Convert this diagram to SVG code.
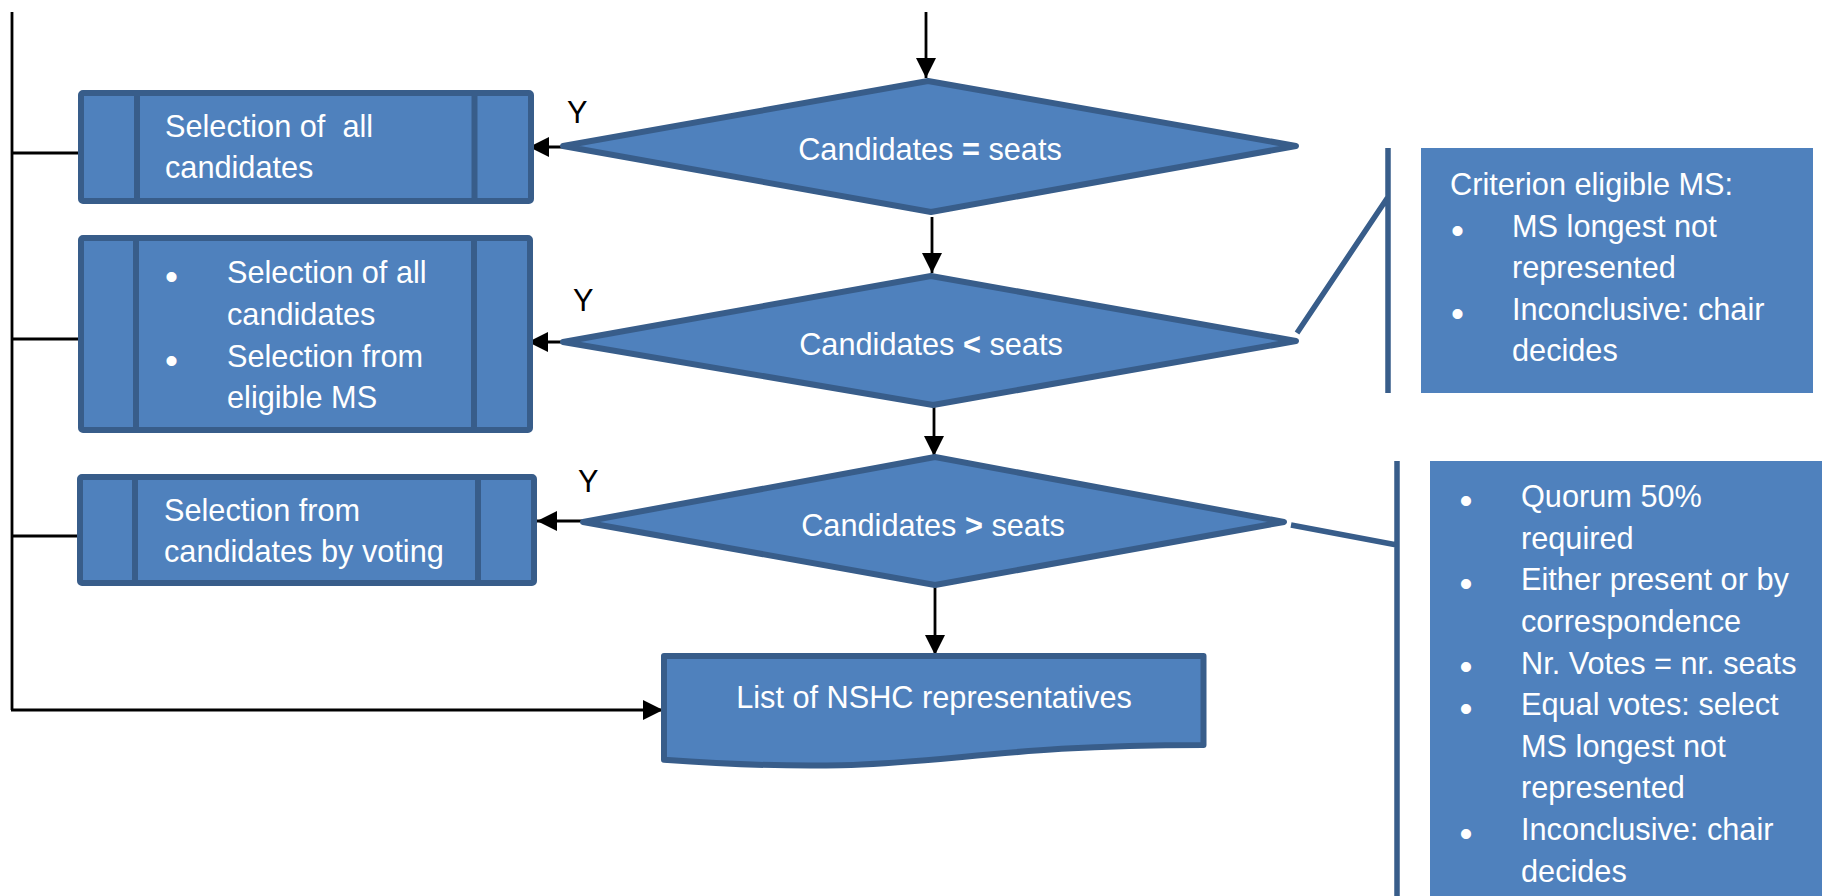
<svg xmlns="http://www.w3.org/2000/svg" width="1822" height="896" viewBox="0 0 1822 896">
<defs>
<style>
.shape{fill:#4f81bd;stroke:#385d8a;stroke-width:6;stroke-linejoin:round}
.inner{stroke:#385d8a;stroke-width:6;fill:none}
.note{fill:#4f81bd;stroke:none}
.callout{stroke:#385d8a;stroke-width:5.5;fill:none}
.conn{stroke:#000;stroke-width:2.8;fill:none}
.t{font-family:"Liberation Sans",Arial,sans-serif;font-size:30.7px;fill:#fff}
.bl{font-family:"Liberation Sans",Arial,sans-serif;font-size:37px;fill:#fff;text-anchor:middle;dominant-baseline:central}
.y{font-family:"Liberation Sans",Arial,sans-serif;font-size:30.7px;fill:#000}
.b{font-weight:bold}
</style>
<marker id="arr" markerUnits="userSpaceOnUse" markerWidth="20" markerHeight="20" viewBox="0 0 20 20" refX="20" refY="10" orient="auto">
<path d="M0,0 L20,10 L0,20 Z" fill="#000"/>
</marker>
</defs>

<g id="connectors">
<path class="conn" d="M926,12 V78" marker-end="url(#arr)"/>
<path class="conn" d="M932,217 V273" marker-end="url(#arr)"/>
<path class="conn" d="M934,407 V456" marker-end="url(#arr)"/>
<path class="conn" d="M935,587 V655" marker-end="url(#arr)"/>
<path class="conn" d="M563,147 H529" marker-end="url(#arr)"/>
<path class="conn" d="M563,342 H528" marker-end="url(#arr)"/>
<path class="conn" d="M582,521 H537" marker-end="url(#arr)"/>
<path class="conn" d="M12,12 V710"/>
<path class="conn" d="M12,153 H80"/>
<path class="conn" d="M12,339 H79"/>
<path class="conn" d="M12,536 H78"/>
<path class="conn" d="M11,710 H663" marker-end="url(#arr)"/>
<text class="y" x="567" y="123">Y</text>
<text class="y" x="573" y="311">Y</text>
<text class="y" x="578" y="492">Y</text>
</g>

<g id="box1">
<rect class="shape" x="81" y="93" width="450" height="108" rx="2"/>
<line class="inner" x1="137" y1="93" x2="137" y2="201"/>
<line class="inner" x1="474.5" y1="93" x2="474.5" y2="201"/>
<text class="t" x="165" y="137" xml:space="preserve">Selection of  all</text>
<text class="t" x="165" y="178">candidates</text>
</g>

<g id="box2">
<rect class="shape" x="81" y="238" width="449" height="192" rx="2"/>
<line class="inner" x1="136" y1="238" x2="136" y2="430"/>
<line class="inner" x1="474" y1="238" x2="474" y2="430"/>
<text class="bl" x="171.5" y="276">•</text>
<text class="t" x="227" y="283">Selection of all</text>
<text class="t" x="227" y="325">candidates</text>
<text class="bl" x="171.5" y="360">•</text>
<text class="t" x="227" y="367">Selection from</text>
<text class="t" x="227" y="408">eligible MS</text>
</g>

<g id="box3">
<rect class="shape" x="80" y="477" width="454" height="106" rx="2"/>
<line class="inner" x1="135" y1="477" x2="135" y2="583"/>
<line class="inner" x1="478" y1="477" x2="478" y2="583"/>
<text class="t" x="164" y="521">Selection from</text>
<text class="t" x="164" y="562">candidates by voting</text>
</g>

<g id="decision1">
<polygon class="shape" points="563,146 928,81 1296,146 931,212"/>
<text class="t" x="930" y="160" text-anchor="middle">Candidates <tspan class="b">=</tspan> seats</text>
</g>

<g id="decision2">
<polygon class="shape" points="563,342 931,276 1296,341 933,405"/>
<text class="t" x="931" y="355" text-anchor="middle">Candidates <tspan class="b">&lt;</tspan> seats</text>
</g>

<g id="decision3">
<polygon class="shape" points="583,522 935,457 1284,522 935,585"/>
<text class="t" x="933" y="536" text-anchor="middle">Candidates <tspan class="b">&gt;</tspan> seats</text>
</g>

<g id="list">
<path class="shape" d="M664,656 H1203.5 V745 C933.75,745 933.75,779 664,759.7 Z"/>
<text class="t" x="934" y="708" text-anchor="middle">List of NSHC representatives</text>
</g>

<g id="note1">
<path class="callout" d="M1297,333 L1388,197 M1388,148 V393"/>
<rect class="note" x="1421" y="148" width="392" height="245"/>
<text class="t" x="1450" y="195">Criterion eligible MS:</text>
<text class="bl" x="1457.5" y="230">•</text>
<text class="t" x="1512" y="237">MS longest not</text>
<text class="t" x="1512" y="278">represented</text>
<text class="bl" x="1457.5" y="313">•</text>
<text class="t" x="1512" y="320">Inconclusive: chair</text>
<text class="t" x="1512" y="361">decides</text>
</g>

<g id="note2">
<path class="callout" d="M1291,525 L1397,545 M1397,461 V896"/>
<rect class="note" x="1430" y="461" width="400" height="440"/>
<text class="bl" x="1466" y="500">•</text>
<text class="t" x="1521" y="507">Quorum 50%</text>
<text class="t" x="1521" y="548.5">required</text>
<text class="bl" x="1466" y="583">•</text>
<text class="t" x="1521" y="590">Either present or by</text>
<text class="t" x="1521" y="632">correspondence</text>
<text class="bl" x="1466" y="666.5">•</text>
<text class="t" x="1521" y="673.5">Nr. Votes = nr. seats</text>
<text class="bl" x="1466" y="708">•</text>
<text class="t" x="1521" y="715">Equal votes: select</text>
<text class="t" x="1521" y="757">MS longest not</text>
<text class="t" x="1521" y="798">represented</text>
<text class="bl" x="1466" y="833">•</text>
<text class="t" x="1521" y="840">Inconclusive: chair</text>
<text class="t" x="1521" y="882">decides</text>
</g>
</svg>
